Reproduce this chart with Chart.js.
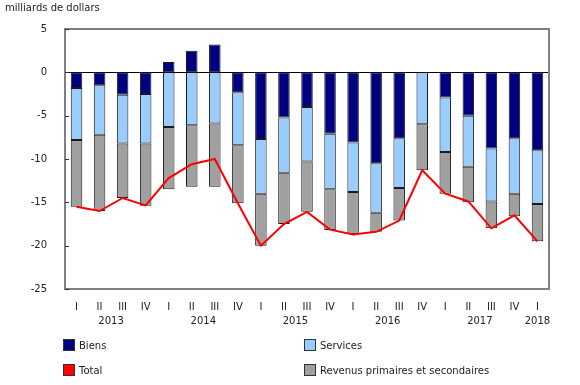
<!DOCTYPE html>
<html>
<head>
<meta charset="utf-8">
<script src="https://cdn.jsdelivr.net/npm/chart.js@4"></script>
<style>
  html, body { margin: 0; padding: 0; background: #fff; }
  #wrap { position: relative; width: 580px; height: 385px; font-family: "DejaVu Sans", Verdana, sans-serif; color: #222; }
  #c { position: absolute; left: 0; top: 0; }
  .ttl { position: absolute; left: 5px; top: 2px; font-size: 10px; }
  .lg { position: absolute; font-size: 10px; line-height: 12px; white-space: nowrap; }
  .lg span.box { display: inline-block; width: 10px; height: 10px; border: 1px solid #333; vertical-align: -2px; margin-right: 4px; }
</style>
</head>
<body>
<div id="wrap">
  <canvas id="c" width="580" height="385"></canvas>
  <div class="ttl">milliards de dollars</div>
  <div class="lg" style="left:63px; top:339px;"><span class="box" style="background:#000080"></span>Biens</div>
  <div class="lg" style="left:304px; top:339px;"><span class="box" style="background:#99CCFF"></span>Services</div>
  <div class="lg" style="left:63px; top:364px;"><span class="box" style="background:#FF0000"></span>Total</div>
  <div class="lg" style="left:304px; top:364px;"><span class="box" style="background:#A0A0A0"></span>Revenus primaires et secondaires</div>
</div>
<script>
const quarters = ['I','II','III','IV','I','II','III','IV','I','II','III','IV','I','II','III','IV','I','II','III','IV','I'];
const years = ['2013','2014','2015','2016','2017','2018'];
const yearStart = [0,4,8,12,16,20];
const yearEnd = [3,7,11,15,19,20];

const biens =    [-1.8,-1.5,-2.6,-2.5, 1.2, 2.5, 3.2,-2.3,-7.7,-5.2,-4.0,-7.1,-8.1,-10.5,-7.6, 0.0,-2.9,-5.0,-8.8,-7.6,-9.0];
const services = [-6.0,-5.7,-5.6,-5.7,-6.3,-6.1,-5.9,-6.1,-6.3,-6.4,-6.3,-6.4,-5.7,-5.7,-5.75,-6.0,-6.3,-5.9,-6.1,-6.4,-6.2];
const revenus =  [-7.7,-8.8,-6.3,-7.2,-7.2,-7.1,-7.3,-6.7,-6.0,-5.9,-5.8,-4.7,-4.85,-2.2,-3.75,-5.3,-4.8,-4.1,-3.1,-2.6,-4.3];
const total =    [-15.5,-16.0,-14.5,-15.35,-12.2,-10.6,-10.0,-15.1,-20.0,-17.5,-16.1,-18.15,-18.7,-18.4,-17.1,-11.3,-14.0,-14.9,-18.0,-16.5,-19.5];

const yTicks = [5, 0, -5, -10, -15, -20, -25];
const FONT = '"DejaVu Sans", Verdana, sans-serif';

const framePlugin = {
  id: 'frame',
  beforeDatasetsDraw(chart) {
    const { ctx, chartArea: a, scales } = chart;
    ctx.save();
    const y0 = scales.y.getPixelForValue(0);
    ctx.strokeStyle = '#000';
    ctx.lineWidth = 1;
    ctx.beginPath();
    ctx.moveTo(a.left, Math.round(y0) + 0.5);
    ctx.lineTo(a.right, Math.round(y0) + 0.5);
    ctx.stroke();
    ctx.restore();
  },
  afterDraw(chart) {
    const { ctx, chartArea: a, scales } = chart;
    ctx.save();
    ctx.strokeStyle = '#808080';
    ctx.lineWidth = 2;
    ctx.strokeRect(a.left, a.top, a.right - a.left, a.bottom - a.top);
    ctx.strokeStyle = '#333';
    ctx.lineWidth = 1;
    yTicks.forEach(v => {
      const y = Math.round(scales.y.getPixelForValue(v)) + 0.5;
      ctx.beginPath();
      ctx.moveTo(a.left, y);
      ctx.lineTo(a.left + 4, y);
      ctx.stroke();
    });
    ctx.fillStyle = '#222';
    ctx.font = '10px ' + FONT;
    ctx.textAlign = 'center';
    ctx.textBaseline = 'middle';
    years.forEach((yr, i) => {
      const x = (scales.x.getPixelForValue(yearStart[i]) + scales.x.getPixelForValue(yearEnd[i])) / 2;
      ctx.fillText(yr, x, a.bottom + 32);
    });
    ctx.restore();
  }
};

const barCommon = { borderColor: '#1a1a1a', borderWidth: 1, borderSkipped: false, order: 1, stack: 'bars', categoryPercentage: 1, barPercentage: 0.5 };

new Chart(document.getElementById('c'), {
  data: {
    labels: quarters,
    datasets: [
      Object.assign({ type: 'bar', label: 'Biens', data: biens, backgroundColor: '#000080' }, barCommon),
      Object.assign({ type: 'bar', label: 'Services', data: services, backgroundColor: '#99CCFF' }, barCommon),
      Object.assign({ type: 'bar', label: 'Revenus primaires et secondaires', data: revenus, backgroundColor: '#A0A0A0' }, barCommon),
      { type: 'line', label: 'Total', data: total, borderColor: '#FF0000', backgroundColor: '#FF0000', borderWidth: 2, pointRadius: 0, tension: 0, order: 0, stack: 'total' }
    ]
  },
  options: {
    responsive: false,
    animation: false,
    devicePixelRatio: 1,
    layout: { padding: { top: 29, right: 31, bottom: 56, left: 0 } },
    plugins: { legend: { display: false }, tooltip: { enabled: false } },
    scales: {
      x: {
        stacked: true,
        grid: { display: false },
        border: { display: false },
        ticks: { color: '#222', font: { family: FONT, size: 10 }, padding: 4, maxRotation: 0, autoSkip: false },
        afterFit(s) { s.height = 40; }
      },
      y: {
        stacked: true,
        min: -25, max: 5,
        grid: { display: false },
        border: { display: false },
        ticks: { stepSize: 5, color: '#222', font: { family: FONT, size: 10 }, padding: 10 },
        afterFit(s) { s.width = 65; }
      }
    }
  },
  plugins: [framePlugin]
});
</script>
</body>
</html>
